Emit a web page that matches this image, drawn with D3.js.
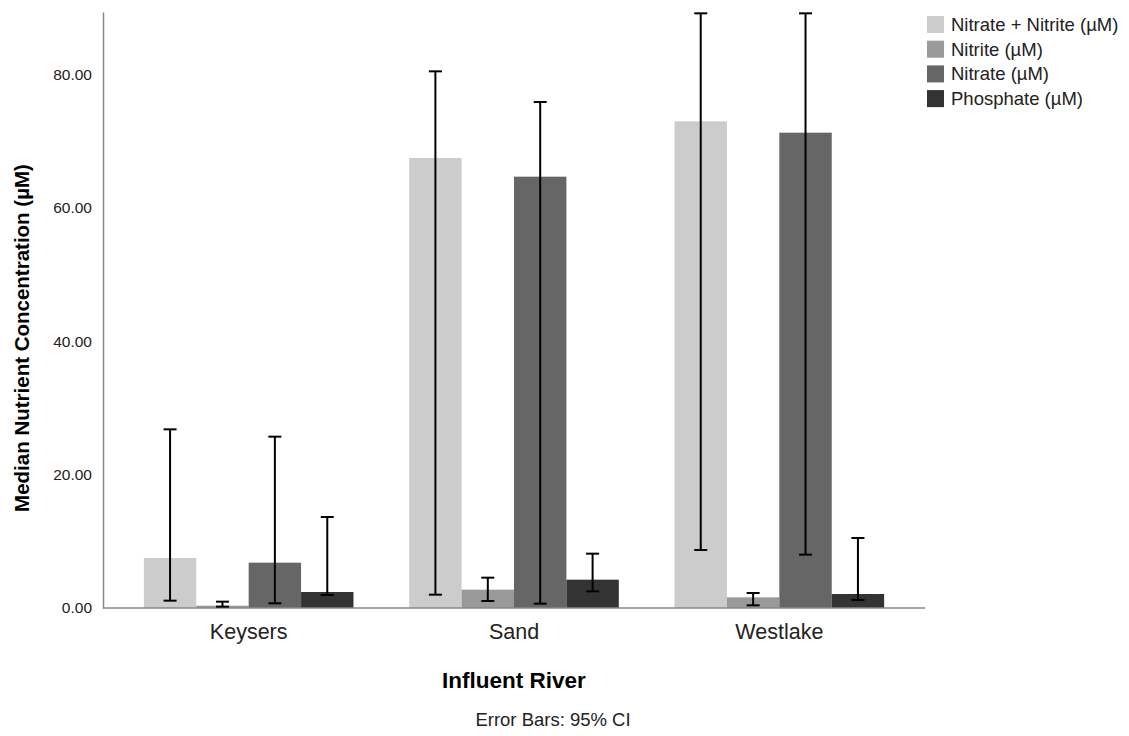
<!DOCTYPE html>
<html>
<head>
<meta charset="utf-8">
<script src="https://d3js.org/d3.v7.min.js"></script>
<style>
    body { margin: 0; background: #fff; }
    text { font-family: "Liberation Sans", Arial, sans-serif; }
</style>
</head>
<body>
<script>
    // data
    const rivers = ['Keysers', 'Sand', 'Westlake'];
    const seriesNames = ['Nitrate + Nitrite (µM)', 'Nitrite (µM)', 'Nitrate (µM)', 'Phosphate (µM)'];
    const medians = [
        [7.5, 0.35, 6.8, 2.4],
        [67.5, 2.75, 64.7, 4.25],
        [73.0, 1.6, 71.3, 2.1]
    ];
    const ciLow = [
        [1.1, 0.2, 0.7, 1.95],
        [2.0, 1.05, 0.65, 2.5],
        [8.7, 0.4, 8.0, 1.2]
    ];
    const ciHigh = [
        [26.8, 0.95, 25.7, 13.65],
        [80.5, 4.55, 75.9, 8.15],
        [89.2, 2.25, 89.2, 10.5]
    ];
    const yTicks = [0, 20, 40, 60, 80];
    const yMax = 89.4;

    const width = 1129;
    const height = 736;
    const colors = ['#cccccc', '#999999', '#666666', '#333333'];
    const font = '"Liberation Sans", Arial, sans-serif';

    const svg = d3.select('body')
        .append('svg')
        .attr('width', width)
        .attr('height', height);

    const x = d3.scaleBand()
        .domain(rivers)
        .range([116, 912])
        .paddingInner(0.21)
        .paddingOuter(0.105);

    const xs = d3.scaleBand()
        .domain(seriesNames)
        .range([0, x.bandwidth()])
        .padding(0);

    const y = d3.scaleLinear()
        .domain([0, yMax])
        .range([608, 12]);

    const rows = rivers.flatMap((r, i) => seriesNames.map((s, j) => ({
        river: r, series: s, j: j,
        value: medians[i][j], lo: ciLow[i][j], hi: ciHigh[i][j]
    })));

    // bars
    svg.append('g')
        .selectAll('rect')
        .data(rows)
        .join('rect')
        .attr('x', d => x(d.river) + xs(d.series))
        .attr('y', d => y(d.value))
        .attr('width', xs.bandwidth())
        .attr('height', d => y(0) - y(d.value))
        .attr('fill', d => colors[d.j]);

    // axes
    const yAxis = svg.append('g')
        .attr('transform', 'translate(103,0)')
        .call(d3.axisLeft(y).tickValues(yTicks).tickSize(0).tickPadding(11).tickFormat(d3.format('.2f')));
    yAxis.select('.domain').attr('stroke', '#888').attr('stroke-width', 1.5);
    yAxis.selectAll('text').attr('font-size', 15.5).attr('fill', '#222')
        .style('font-family', font);

    const xAxis = svg.append('g')
        .attr('transform', 'translate(0,608)')
        .call(d3.axisBottom(x).tickSize(0).tickPadding(16));
    xAxis.select('.domain').attr('d', 'M103,0H925').attr('stroke', '#888').attr('stroke-width', 1.5);
    xAxis.selectAll('text').attr('font-size', 21.5).attr('fill', '#222')
        .style('font-family', font);

    // error bars
    const eb = svg.append('g')
        .attr('stroke', '#000')
        .attr('stroke-width', 2);
    const cx = d => x(d.river) + xs(d.series) + xs.bandwidth() / 2;
    eb.selectAll('line.v')
        .data(rows)
        .join('line')
        .attr('class', 'v')
        .attr('x1', cx).attr('x2', cx)
        .attr('y1', d => y(Math.min(d.hi, yMax)))
        .attr('y2', d => y(d.lo));
    eb.selectAll('line.hi')
        .data(rows)
        .join('line')
        .attr('class', 'hi')
        .attr('x1', d => cx(d) - 6.5).attr('x2', d => cx(d) + 6.5)
        .attr('y1', d => y(Math.min(d.hi, yMax))).attr('y2', d => y(Math.min(d.hi, yMax)));
    eb.selectAll('line.lo')
        .data(rows)
        .join('line')
        .attr('class', 'lo')
        .attr('x1', d => cx(d) - 6.5).attr('x2', d => cx(d) + 6.5)
        .attr('y1', d => y(d.lo)).attr('y2', d => y(d.lo));

    // titles
    svg.append('text')
        .attr('transform', 'translate(29,338) rotate(-90)')
        .attr('text-anchor', 'middle')
        .attr('font-size', 20.5)
        .attr('font-weight', 'bold')
        .text('Median Nutrient Concentration (µM)');

    svg.append('text')
        .attr('x', 514)
        .attr('y', 688)
        .attr('text-anchor', 'middle')
        .attr('font-size', 22.5)
        .attr('font-weight', 'bold')
        .text('Influent River');

    svg.append('text')
        .attr('x', 553)
        .attr('y', 726)
        .attr('text-anchor', 'middle')
        .attr('font-size', 18.5)
        .attr('fill', '#222')
        .text('Error Bars: 95% CI');

    // legend
    const legend = svg.append('g')
        .selectAll('g')
        .data(seriesNames)
        .join('g')
        .attr('transform', (d, i) => 'translate(927,' + (16 + i * 24.7) + ')');
    legend.append('rect')
        .attr('width', 17)
        .attr('height', 17)
        .attr('fill', (d, i) => colors[i]);
    legend.append('text')
        .attr('x', 24)
        .attr('y', 15)
        .attr('font-size', 18.5)
        .attr('fill', '#222')
        .text(d => d);
</script>
</body>
</html>
